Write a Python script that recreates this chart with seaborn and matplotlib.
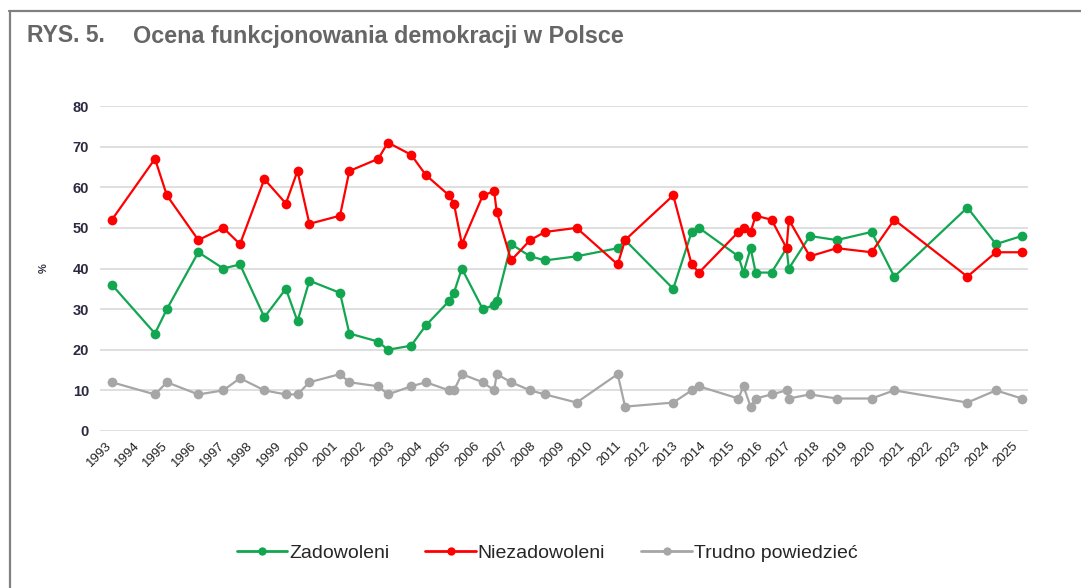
import numpy as np
import pandas as pd
import matplotlib
matplotlib.use("Agg")
import matplotlib.pyplot as plt
from matplotlib.lines import Line2D
import seaborn as sns

# survey dates (fractional years)
dates = [1993.24, 1994.76, 1995.18, 1996.29, 1997.17, 1997.76, 1998.62, 1999.38, 1999.79,
         2000.21, 2001.29, 2001.62, 2002.64, 2002.98, 2003.80, 2004.32, 2005.14, 2005.31,
         2005.59, 2006.33, 2006.73, 2006.82, 2007.33, 2008.00, 2008.53, 2009.64, 2011.09,
         2011.35, 2013.05, 2013.70, 2013.96, 2015.35, 2015.53, 2015.78, 2015.96, 2016.52,
         2017.05, 2017.13, 2017.87, 2018.82, 2020.05, 2020.85, 2023.43, 2024.44, 2025.35]

zadowoleni = [36, 24, 30, 44, 40, 41, 28, 35, 27, 37, 34, 24, 22, 20, 21, 26, 32, 34, 40,
              30, 31, 32, 46, 43, 42, 43, 45, 47, 35, 49, 50, 43, 39, 45, 39, 39, 45, 40,
              48, 47, 49, 38, 55, 46, 48]
niezadowoleni = [52, 67, 58, 47, 50, 46, 62, 56, 64, 51, 53, 64, 67, 71, 68, 63, 58, 56, 46,
                 58, 59, 54, 42, 47, 49, 50, 41, 47, 58, 41, 39, 49, 50, 49, 53, 52, 45, 52,
                 43, 45, 44, 52, 38, 44, 44]
trudno = [12, 9, 12, 9, 10, 13, 10, 9, 9, 12, 14, 12, 11, 9, 11, 12, 10, 10, 14, 12, 10, 14,
          12, 10, 9, 7, 14, 6, 7, 10, 11, 8, 11, 6, 8, 9, 10, 8, 9, 8, 8, 10, 7, 10, 8]

years = list(range(1993, 2026))
year_labels = [str(y) for y in years]
y_ticks = [0, 10, 20, 30, 40, 50, 60, 70, 80]

series_names = ["Zadowoleni", "Niezadowoleni", "Trudno powiedzieć"]
colors = ["#13a651", "#ff0000", "#a6a6a6"]

df = pd.DataFrame({
    "data": dates * 3,
    "wartosc": zadowoleni + niezadowoleni + trudno,
    "seria": [series_names[0]] * len(dates) + [series_names[1]] * len(dates)
             + [series_names[2]] * len(dates),
})

sns.set_theme(style="white")
plt.rcParams["font.family"] = ["Liberation Sans", "DejaVu Sans"]

fig = plt.figure(figsize=(10.81, 5.88), dpi=100)
ax = fig.add_axes([100 / 1081, 1 - 431 / 588, 928 / 1081, 325 / 588])

for name, col in zip(series_names, colors):
    sub = df[df["seria"] == name]
    sns.lineplot(data=sub, x="data", y="wartosc", ax=ax, color=col, marker="o",
                 markersize=7, markeredgewidth=0, linewidth=1.6, sort=False,
                 estimator=None, label=name, zorder=3 if name != "Trudno powiedzieć" else 2)

ax.set_xlim(1992.82, 2025.57)
ax.set_ylim(0, 80)
ax.set_yticks(y_ticks)
ax.set_yticklabels([str(v) for v in y_ticks], fontsize=10.5, color="#2a2a40", fontweight="bold")
ax.set_xticks(years)
ax.set_xticklabels(year_labels, rotation=45, ha="right", rotation_mode="anchor",
                   fontsize=9.5, color="#222222")
ax.tick_params(axis="x", length=0, pad=6)
ax.tick_params(axis="y", length=0, pad=8)
ax.grid(axis="y", color="#d9d9d9", linewidth=1.2)
ax.grid(axis="x", visible=False)
for s in ax.spines.values():
    s.set_visible(False)
for line in ax.get_lines():
    line.set_clip_on(False)
ax.set_xlabel("")
ax.set_ylabel("%", fontsize=8, color="#333344", rotation=90, labelpad=17, fontweight="bold")

ax.get_legend().remove()
handles = [Line2D([0], [0], color=c, marker="o", markersize=6, markeredgewidth=0,
                  linewidth=2) for c in colors]
fig.legend(handles, series_names, loc="center", bbox_to_anchor=(547 / 1081, 1 - 553 / 588),
           ncol=3, frameon=False, fontsize=14, handlelength=2.6, handletextpad=0.1,
           columnspacing=1.85)

fig.text(27 / 1081, 1 - 36 / 588, "RYS. 5.", fontsize=16.5, color="#666666",
         fontweight="bold", va="center", ha="left")
fig.text(133 / 1081, 1 - 36 / 588, "Ocena funkcjonowania demokracji w Polsce",
         fontsize=16.8, color="#666666", fontweight="bold", va="center", ha="left")

# frame lines (top and left)
fig.add_artist(Line2D([9 / 1081, 1.0], [1 - 11 / 588, 1 - 11 / 588], color="#808080",
                      linewidth=1.6, transform=fig.transFigure))
fig.add_artist(Line2D([9.5 / 1081, 9.5 / 1081], [0, 1 - 11 / 588], color="#808080",
                      linewidth=1.6, transform=fig.transFigure))

fig.savefig("out.png", dpi=100)
